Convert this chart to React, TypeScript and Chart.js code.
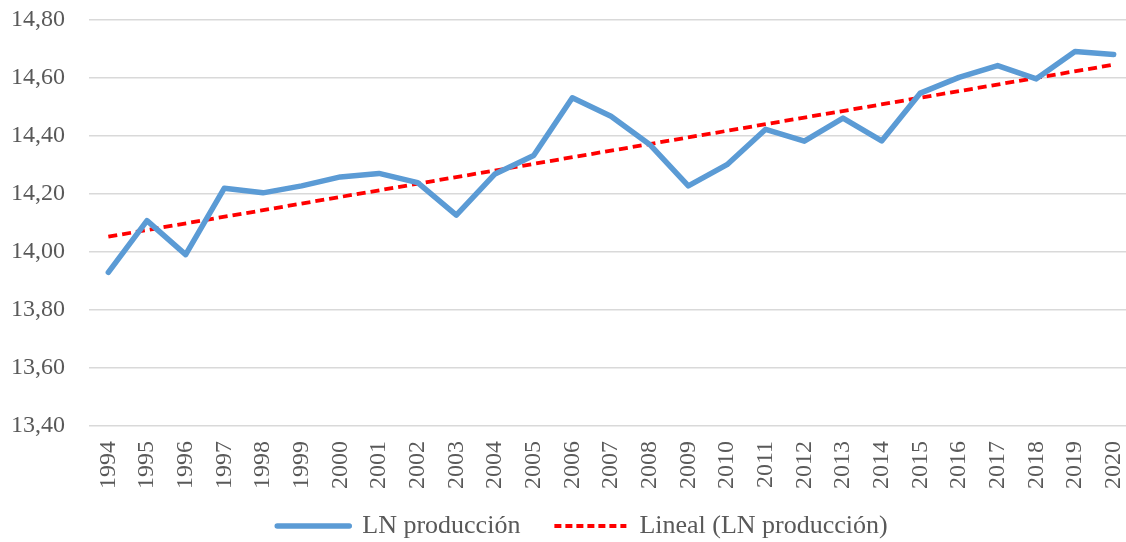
import React, { useEffect, useRef } from "react";
import { Chart, registerables } from "chart.js";

Chart.register(...registerables);

const years: string[] = [
  "1994", "1995", "1996", "1997", "1998", "1999", "2000", "2001", "2002",
  "2003", "2004", "2005", "2006", "2007", "2008", "2009", "2010", "2011",
  "2012", "2013", "2014", "2015", "2016", "2017", "2018", "2019", "2020",
];

const lnProduccion: number[] = [
  13.930, 14.108, 13.991, 14.220, 14.204, 14.228, 14.259, 14.271, 14.239,
  14.127, 14.269, 14.333, 14.532, 14.468, 14.371, 14.228, 14.301, 14.423,
  14.382, 14.462, 14.383, 14.548, 14.602, 14.643, 14.597, 14.691, 14.681,
];

// Linear trend line endpoints
const trendStart = 14.053;
const trendEnd = 14.646;

const yMin = 13.4;
const yMax = 14.8;
const yStep = 0.2;

const seriesLabel = "LN producción";
const trendLabel = "Lineal (LN producción)";

const FONT = "'Palatino Linotype', 'Book Antiqua', Palatino, 'Liberation Serif', serif";
const TEXT = "#595959";
const LEGEND_SHIFT_X = 16;
const LEGEND_SHIFT_Y = -13;

const legendShift = {
  id: "legendShift",
  afterLayout(chart: any) {
    const l = chart.legend;
    if (l) {
      l.left += LEGEND_SHIFT_X;
      l.right += LEGEND_SHIFT_X;
      l.top += LEGEND_SHIFT_Y;
      l.bottom += LEGEND_SHIFT_Y;
    }
  },
};

export default function App() {
  const ref = useRef<HTMLCanvasElement | null>(null);

  useEffect(() => {
    document.body.style.margin = "0";
    document.body.style.overflow = "hidden";
    const trendData: (number | null)[] = years.map((_, i) =>
      i === 0 ? trendStart : i === years.length - 1 ? trendEnd : null
    );
    const chart = new Chart(ref.current as HTMLCanvasElement, {
      type: "line",
      data: {
        labels: years,
        datasets: [
          {
            label: seriesLabel,
            data: lnProduccion,
            borderColor: "#5B9BD5",
            backgroundColor: "#5B9BD5",
            borderWidth: 5.5,
            borderCapStyle: "round",
            borderJoinStyle: "round",
            pointRadius: 0,
            pointHoverRadius: 0,
            pointStyle: "line",
            tension: 0,
          },
          {
            label: trendLabel,
            data: trendData,
            spanGaps: true,
            borderColor: "#FF0000",
            backgroundColor: "#FF0000",
            borderWidth: 3.8,
            borderDash: [9, 5],
            pointRadius: 0,
            pointHoverRadius: 0,
            pointStyle: "line",
            tension: 0,
          },
        ],
      },
      plugins: [legendShift],
      options: {
        animation: false,
        responsive: false,
        layout: { padding: { left: 0, right: 7, top: 20, bottom: -20 } },
        plugins: {
          tooltip: { enabled: false },
          legend: {
            position: "bottom",
            labels: {
              usePointStyle: true,
              pointStyleWidth: 72,
              boxHeight: 26,
              padding: 34,
              color: TEXT,
              font: { family: FONT, size: 26 },
              generateLabels: (c: any) => {
                const items = Chart.defaults.plugins.legend.labels.generateLabels(c);
                return items.map((it: any, i: number) => {
                  const ds: any = c.data.datasets[i];
                  return {
                    ...it,
                    lineWidth: ds.borderWidth,
                    lineDash: i === 1 ? [7, 4] : [],
                    lineCap: i === 0 ? "round" : "butt",
                    strokeStyle: ds.borderColor,
                  };
                });
              },
            },
          },
        },
        scales: {
          x: {
            offset: true,
            grid: { display: false, drawTicks: false, offset: true },
            border: { display: false },
            ticks: {
              minRotation: 90,
              maxRotation: 90,
              autoSkip: false,
              padding: 15,
              color: TEXT,
              font: { family: FONT, size: 24 },
            },
            afterFit: (scale: any) => {
              scale.height = 66;
              scale.paddingLeft = 0;
              scale.paddingRight = 0;
            },
          },
          y: {
            min: yMin,
            max: yMax,
            grid: { color: "#D9D9D9", lineWidth: 1.5, drawTicks: false },
            border: { display: false },
            ticks: {
              stepSize: yStep,
              padding: 24,
              color: TEXT,
              font: { family: FONT, size: 24 },
              callback: (v: any) => Number(v).toFixed(2).replace(".", ","),
            },
            afterFit: (scale: any) => {
              scale.width = 89;
              scale.paddingTop = 0;
              scale.paddingBottom = 0;
            },
          },
        },
      },
    });
    return () => chart.destroy();
  }, []);

  return (
    <div style={{ position: "absolute", left: 0, top: 0, width: 1140, height: 542 }}>
      <canvas ref={ref} width={1140} height={542} style={{ width: 1140, height: 542 }} />
    </div>
  );
}
